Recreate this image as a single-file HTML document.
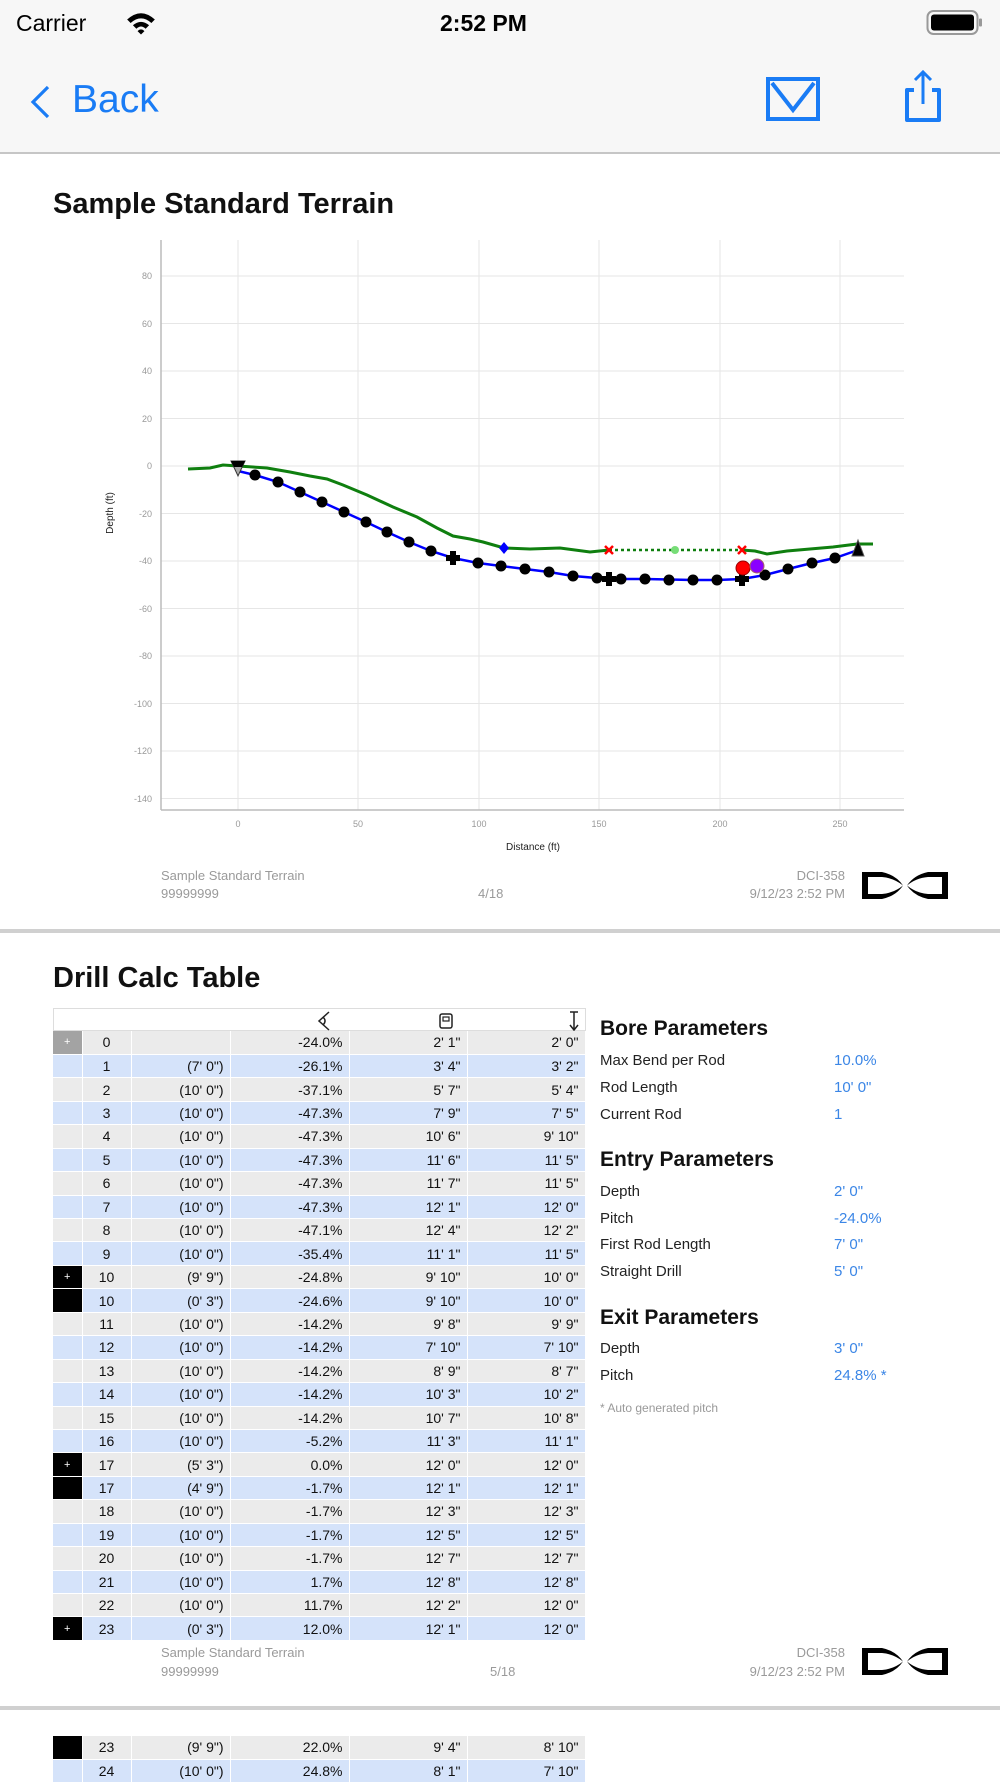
<!DOCTYPE html>
<html><head><meta charset="utf-8">
<style>
*{margin:0;padding:0;box-sizing:border-box}
body{width:1000px;height:1778px;overflow:hidden;background:#fff;font-family:"Liberation Sans",sans-serif;position:relative}
.a{position:absolute;white-space:nowrap}
.nav{position:absolute;left:0;top:0;width:1000px;height:154px;background:#f7f7f7;border-bottom:2px solid #c6c6c6}
.sep{position:absolute;left:0;width:1000px;height:4px;background:#d0d0d0}
.ft{color:#9a9a9a;font-size:13px}
table{position:absolute;left:53px;border-collapse:collapse;font-size:14px;color:#111}
td{height:23.44px;padding:0 6px 0 0;text-align:right;border-right:1px solid #fff;border-bottom:1px solid #fff}
tr.g td{background:#ebebeb}
tr.b td{background:#d5e3fa}
td.m{width:29px;padding:0;text-align:center;color:#fff;font-size:11px}
td.m.k{background:#000!important}
td.m.s{background:#a3a3a3!important}
td.n{width:49px;text-align:center;padding:0}
td.c2{width:99px}td.c3{width:119px}td.c4{width:118px}td.c5{width:118px}
.lbl{font-size:15px;color:#222}
.val{font-size:15px;color:#3b86e6}
.h2{font-size:21px;font-weight:bold;color:#111}
</style></head><body>
<div class="nav"></div>
<div class="a" style="left:16px;top:10px;font-size:23px;color:#000">Carrier</div>
<svg class="a" style="left:126px;top:10px" width="30" height="26" viewBox="0 0 26 22"><path d="M1,8 Q13,-3 25,8 L22,11 Q13,3 4,11Z M6,13 Q13,7 20,13 L17,16 Q13,12 9,16Z M10,18 Q13,15 16,18 L13,21Z" fill="#000"/></svg>
<div class="a" style="left:440px;top:10px;font-size:23px;font-weight:bold;color:#000">2:52 PM</div>
<svg class="a" style="left:926px;top:9px" width="58" height="28"><rect x="1.5" y="2" width="50" height="23" rx="6" fill="none" stroke="#999" stroke-width="2"/><rect x="5" y="5.5" width="43" height="16" rx="3" fill="#000"/><rect x="53" y="9.5" width="3" height="8" rx="1" fill="#999"/></svg>
<svg class="a" style="left:28px;top:84px" width="24" height="36"><path d="M20,3 L5,18 L20,33" fill="none" stroke="#1a7cf5" stroke-width="3.2"/></svg>
<div class="a" style="left:72px;top:78px;font-size:39px;color:#1a7cf5">Back</div>
<svg class="a" style="left:766px;top:77px" width="54" height="44"><rect x="2" y="2" width="50" height="40" fill="none" stroke="#1a7cf5" stroke-width="4"/><path d="M6,6 L27,33 L48,6" fill="none" stroke="#1a7cf5" stroke-width="4"/></svg>
<svg class="a" style="left:902px;top:68px" width="42" height="56"><path d="M12,22 L5,22 L5,52 L37,52 L37,22 L30,22" fill="none" stroke="#1a7cf5" stroke-width="4" stroke-linejoin="round"/><path d="M21,36 L21,4 M13,12 L21,4 L29,12" fill="none" stroke="#1a7cf5" stroke-width="3"/></svg>

<div class="a" style="left:53px;top:188px;font-size:29px;font-weight:bold;color:#111">Sample Standard Terrain</div>

<svg class="a" style="left:0;top:0" width="1000" height="940">
<g stroke="#e6e6e6" stroke-width="1">
<line x1="161" y1="276" x2="904" y2="276"/><line x1="161" y1="323.5" x2="904" y2="323.5"/><line x1="161" y1="371" x2="904" y2="371"/><line x1="161" y1="418.5" x2="904" y2="418.5"/><line x1="161" y1="466" x2="904" y2="466"/><line x1="161" y1="513.5" x2="904" y2="513.5"/><line x1="161" y1="561" x2="904" y2="561"/><line x1="161" y1="608.5" x2="904" y2="608.5"/><line x1="161" y1="656" x2="904" y2="656"/><line x1="161" y1="703.5" x2="904" y2="703.5"/><line x1="161" y1="751" x2="904" y2="751"/><line x1="161" y1="798.5" x2="904" y2="798.5"/>
<line x1="238" y1="240" x2="238" y2="810"/><line x1="358" y1="240" x2="358" y2="810"/><line x1="479" y1="240" x2="479" y2="810"/><line x1="599" y1="240" x2="599" y2="810"/><line x1="720" y1="240" x2="720" y2="810"/><line x1="840" y1="240" x2="840" y2="810"/>
</g>
<line x1="161" y1="240" x2="161" y2="810" stroke="#bbb" stroke-width="1.5"/>
<line x1="161" y1="810" x2="904" y2="810" stroke="#bbb" stroke-width="1.5"/>
<g font-size="9" fill="#999" text-anchor="end" font-family="Liberation Sans,sans-serif">
<text x="152" y="279">80</text><text x="152" y="327">60</text><text x="152" y="374">40</text><text x="152" y="422">20</text><text x="152" y="469">0</text><text x="152" y="517">-20</text><text x="152" y="564">-40</text><text x="152" y="612">-60</text><text x="152" y="659">-80</text><text x="152" y="707">-100</text><text x="152" y="754">-120</text><text x="152" y="802">-140</text>
</g>
<g font-size="9" fill="#999" text-anchor="middle" font-family="Liberation Sans,sans-serif">
<text x="238" y="827">0</text><text x="358" y="827">50</text><text x="479" y="827">100</text><text x="599" y="827">150</text><text x="720" y="827">200</text><text x="840" y="827">250</text>
</g>
<text x="533" y="850" font-size="10" fill="#222" text-anchor="middle" font-family="Liberation Sans,sans-serif">Distance (ft)</text>
<text transform="translate(113,513) rotate(-90)" font-size="10" fill="#222" text-anchor="middle" font-family="Liberation Sans,sans-serif">Depth (ft)</text>
<polyline fill="none" stroke="#0f7f0f" stroke-width="3" points="188,469 210,468 223,465 238,466 267,468 290,472 310,476 327,479 343,485 367,495 393,507 417,517 437,528 453,536 470,539 483,542 504,548 530,549 560,548 590,552 609,550"/>
<polyline fill="none" stroke="#0f7f0f" stroke-width="3" points="742,550 755,551 767,554 787,551 810,549 833,547 857,544 873,544"/>
<line x1="609" y1="550" x2="742" y2="550" stroke="#0f7f0f" stroke-width="2.5" stroke-dasharray="3,3"/>
<circle cx="675" cy="550" r="4" fill="#77dd77"/>
<polyline fill="none" stroke="#0000ff" stroke-width="2.5" points="238,471 255,475 278,482 300,492 322,502 344,512 366,522 387,532 409,542 431,551 453,558 478,563 501,566 525,569 549,572 573,576 597,578 609,579 645,579 693,580 717,580 742,579 765,575 788,569 812,563 835,558 858,550"/>
<g fill="#000">
<circle cx="255" cy="475" r="5.5"/><circle cx="278" cy="482" r="5.5"/><circle cx="300" cy="492" r="5.5"/><circle cx="322" cy="502" r="5.5"/><circle cx="344" cy="512" r="5.5"/><circle cx="366" cy="522" r="5.5"/><circle cx="387" cy="532" r="5.5"/><circle cx="409" cy="542" r="5.5"/><circle cx="431" cy="551" r="5.5"/><circle cx="478" cy="563" r="5.5"/><circle cx="501" cy="566" r="5.5"/><circle cx="525" cy="569" r="5.5"/><circle cx="549" cy="572" r="5.5"/><circle cx="573" cy="576" r="5.5"/><circle cx="597" cy="578" r="5.5"/><circle cx="621" cy="579" r="5.5"/><circle cx="645" cy="579" r="5.5"/><circle cx="669" cy="580" r="5.5"/><circle cx="693" cy="580" r="5.5"/><circle cx="717" cy="580" r="5.5"/><circle cx="765" cy="575" r="5.5"/><circle cx="788" cy="569" r="5.5"/><circle cx="812" cy="563" r="5.5"/><circle cx="835" cy="558" r="5.5"/>
<path d="M450,551h6v4h4v6h-4v4h-6v-4h-4v-6h4z"/>
<path d="M606,572h6v4h4v6h-4v4h-6v-4h-4v-6h4z"/>
<path d="M739,572h6v4h4v6h-4v4h-6v-4h-4v-6h4z"/>
</g>
<path d="M231,461 L245,461 L238,476 Z" fill="#aaa" stroke="#333" stroke-width="1"/>
<path d="M231,461 L245,461 L242,467 L234,467Z" fill="#000"/>
<path d="M852,556 L864,556 L858,540 Z" fill="#000" stroke="#555" stroke-width="1"/>
<path d="M504,542 L509,548 L504,554 L499,548Z" fill="#0000ff"/>
<g stroke="#ff0000" stroke-width="2.5"><path d="M605,546 l8,8 M613,546 l-8,8"/><path d="M738,546 l8,8 M746,546 l-8,8"/></g>
<circle cx="743" cy="568" r="7" fill="#ff0000" stroke="#900" stroke-width="1"/>
<circle cx="757" cy="566" r="7" fill="#8a00ff" stroke="#a66" stroke-width="1"/>
</svg>

<div class="a ft" style="left:161px;top:868px">Sample Standard Terrain</div>
<div class="a ft" style="left:161px;top:886px">99999999</div>
<div class="a ft" style="left:478px;top:886px">4/18</div>
<div class="a ft" style="right:155px;top:868px;text-align:right">DCI-358</div>
<div class="a ft" style="right:155px;top:886px;text-align:right">9/12/23 2:52 PM</div>
<svg class="a" style="left:862px;top:872px" width="86" height="27" viewBox="0 0 86 27"><g fill="#000"><rect x="0" y="0" width="6" height="27"/><rect x="80" y="0" width="6" height="27"/><path d="M6,0 L20,0 Q34,3 41,13.5 Q32,6 20,5 L6,5Z"/><path d="M6,27 L20,27 Q34,24 41,13.5 Q32,21 20,22 L6,22Z"/><path d="M80,0 L66,0 Q52,3 45,13.5 Q54,6 66,5 L80,5Z"/><path d="M80,27 L66,27 Q52,24 45,13.5 Q54,21 66,22 L80,22Z"/></g></svg>

<div class="sep" style="top:929px"></div>
<div class="a" style="left:53px;top:962px;font-size:29px;font-weight:bold;color:#111">Drill Calc Table</div>

<div class="a" style="left:53px;top:1008px;width:533px;height:24px;border:1px solid #ddd;border-bottom:2px solid #ddd"></div>
<svg class="a" style="left:315px;top:1010px" width="280" height="22"><path d="M14,2 L4,11 L14,20 M8,7 Q12,11 8,15" fill="none" stroke="#222" stroke-width="1.5"/><rect x="125" y="4" width="12" height="14" rx="2" fill="none" stroke="#222" stroke-width="1.5"/><rect x="128" y="7" width="6" height="4" fill="none" stroke="#222" stroke-width="1.2"/><path d="M255,2 h8 M259,2 v17 M255,15 l4,5 l4,-5" fill="none" stroke="#222" stroke-width="1.5"/></svg>

<table style="top:1031px">
<tr class="g"><td class="m s">+</td><td class="n">0</td><td class="c2"></td><td class="c3">-24.0%</td><td class="c4">2' 1"</td><td class="c5">2' 0"</td></tr>
<tr class="b"><td class="m"></td><td class="n">1</td><td class="c2">(7' 0")</td><td class="c3">-26.1%</td><td class="c4">3' 4"</td><td class="c5">3' 2"</td></tr>
<tr class="g"><td class="m"></td><td class="n">2</td><td class="c2">(10' 0")</td><td class="c3">-37.1%</td><td class="c4">5' 7"</td><td class="c5">5' 4"</td></tr>
<tr class="b"><td class="m"></td><td class="n">3</td><td class="c2">(10' 0")</td><td class="c3">-47.3%</td><td class="c4">7' 9"</td><td class="c5">7' 5"</td></tr>
<tr class="g"><td class="m"></td><td class="n">4</td><td class="c2">(10' 0")</td><td class="c3">-47.3%</td><td class="c4">10' 6"</td><td class="c5">9' 10"</td></tr>
<tr class="b"><td class="m"></td><td class="n">5</td><td class="c2">(10' 0")</td><td class="c3">-47.3%</td><td class="c4">11' 6"</td><td class="c5">11' 5"</td></tr>
<tr class="g"><td class="m"></td><td class="n">6</td><td class="c2">(10' 0")</td><td class="c3">-47.3%</td><td class="c4">11' 7"</td><td class="c5">11' 5"</td></tr>
<tr class="b"><td class="m"></td><td class="n">7</td><td class="c2">(10' 0")</td><td class="c3">-47.3%</td><td class="c4">12' 1"</td><td class="c5">12' 0"</td></tr>
<tr class="g"><td class="m"></td><td class="n">8</td><td class="c2">(10' 0")</td><td class="c3">-47.1%</td><td class="c4">12' 4"</td><td class="c5">12' 2"</td></tr>
<tr class="b"><td class="m"></td><td class="n">9</td><td class="c2">(10' 0")</td><td class="c3">-35.4%</td><td class="c4">11' 1"</td><td class="c5">11' 5"</td></tr>
<tr class="g"><td class="m k">+</td><td class="n">10</td><td class="c2">(9' 9")</td><td class="c3">-24.8%</td><td class="c4">9' 10"</td><td class="c5">10' 0"</td></tr>
<tr class="b"><td class="m k"></td><td class="n">10</td><td class="c2">(0' 3")</td><td class="c3">-24.6%</td><td class="c4">9' 10"</td><td class="c5">10' 0"</td></tr>
<tr class="g"><td class="m"></td><td class="n">11</td><td class="c2">(10' 0")</td><td class="c3">-14.2%</td><td class="c4">9' 8"</td><td class="c5">9' 9"</td></tr>
<tr class="b"><td class="m"></td><td class="n">12</td><td class="c2">(10' 0")</td><td class="c3">-14.2%</td><td class="c4">7' 10"</td><td class="c5">7' 10"</td></tr>
<tr class="g"><td class="m"></td><td class="n">13</td><td class="c2">(10' 0")</td><td class="c3">-14.2%</td><td class="c4">8' 9"</td><td class="c5">8' 7"</td></tr>
<tr class="b"><td class="m"></td><td class="n">14</td><td class="c2">(10' 0")</td><td class="c3">-14.2%</td><td class="c4">10' 3"</td><td class="c5">10' 2"</td></tr>
<tr class="g"><td class="m"></td><td class="n">15</td><td class="c2">(10' 0")</td><td class="c3">-14.2%</td><td class="c4">10' 7"</td><td class="c5">10' 8"</td></tr>
<tr class="b"><td class="m"></td><td class="n">16</td><td class="c2">(10' 0")</td><td class="c3">-5.2%</td><td class="c4">11' 3"</td><td class="c5">11' 1"</td></tr>
<tr class="g"><td class="m k">+</td><td class="n">17</td><td class="c2">(5' 3")</td><td class="c3">0.0%</td><td class="c4">12' 0"</td><td class="c5">12' 0"</td></tr>
<tr class="b"><td class="m k"></td><td class="n">17</td><td class="c2">(4' 9")</td><td class="c3">-1.7%</td><td class="c4">12' 1"</td><td class="c5">12' 1"</td></tr>
<tr class="g"><td class="m"></td><td class="n">18</td><td class="c2">(10' 0")</td><td class="c3">-1.7%</td><td class="c4">12' 3"</td><td class="c5">12' 3"</td></tr>
<tr class="b"><td class="m"></td><td class="n">19</td><td class="c2">(10' 0")</td><td class="c3">-1.7%</td><td class="c4">12' 5"</td><td class="c5">12' 5"</td></tr>
<tr class="g"><td class="m"></td><td class="n">20</td><td class="c2">(10' 0")</td><td class="c3">-1.7%</td><td class="c4">12' 7"</td><td class="c5">12' 7"</td></tr>
<tr class="b"><td class="m"></td><td class="n">21</td><td class="c2">(10' 0")</td><td class="c3">1.7%</td><td class="c4">12' 8"</td><td class="c5">12' 8"</td></tr>
<tr class="g"><td class="m"></td><td class="n">22</td><td class="c2">(10' 0")</td><td class="c3">11.7%</td><td class="c4">12' 2"</td><td class="c5">12' 0"</td></tr>
<tr class="b"><td class="m k">+</td><td class="n">23</td><td class="c2">(0' 3")</td><td class="c3">12.0%</td><td class="c4">12' 1"</td><td class="c5">12' 0"</td></tr>
</table>

<div class="a h2" style="left:600px;top:1017px">Bore Parameters</div>
<div class="a lbl" style="left:600px;top:1052px">Max Bend per Rod</div><div class="a val" style="left:834px;top:1052px">10.0%</div>
<div class="a lbl" style="left:600px;top:1079px">Rod Length</div><div class="a val" style="left:834px;top:1079px">10' 0"</div>
<div class="a lbl" style="left:600px;top:1106px">Current Rod</div><div class="a val" style="left:834px;top:1106px">1</div>
<div class="a h2" style="left:600px;top:1148px">Entry Parameters</div>
<div class="a lbl" style="left:600px;top:1183px">Depth</div><div class="a val" style="left:834px;top:1183px">2' 0"</div>
<div class="a lbl" style="left:600px;top:1210px">Pitch</div><div class="a val" style="left:834px;top:1210px">-24.0%</div>
<div class="a lbl" style="left:600px;top:1236px">First Rod Length</div><div class="a val" style="left:834px;top:1236px">7' 0"</div>
<div class="a lbl" style="left:600px;top:1263px">Straight Drill</div><div class="a val" style="left:834px;top:1263px">5' 0"</div>
<div class="a h2" style="left:600px;top:1306px">Exit Parameters</div>
<div class="a lbl" style="left:600px;top:1340px">Depth</div><div class="a val" style="left:834px;top:1340px">3' 0"</div>
<div class="a lbl" style="left:600px;top:1367px">Pitch</div><div class="a val" style="left:834px;top:1367px">24.8% *</div>
<div class="a" style="left:600px;top:1401px;font-size:12px;color:#999">* Auto generated pitch</div>

<div class="a ft" style="left:161px;top:1645px">Sample Standard Terrain</div>
<div class="a ft" style="left:161px;top:1664px">99999999</div>
<div class="a ft" style="left:490px;top:1664px">5/18</div>
<div class="a ft" style="right:155px;top:1645px;text-align:right">DCI-358</div>
<div class="a ft" style="right:155px;top:1664px;text-align:right">9/12/23 2:52 PM</div>
<svg class="a" style="left:862px;top:1648px" width="86" height="27" viewBox="0 0 86 27"><g fill="#000"><rect x="0" y="0" width="6" height="27"/><rect x="80" y="0" width="6" height="27"/><path d="M6,0 L20,0 Q34,3 41,13.5 Q32,6 20,5 L6,5Z"/><path d="M6,27 L20,27 Q34,24 41,13.5 Q32,21 20,22 L6,22Z"/><path d="M80,0 L66,0 Q52,3 45,13.5 Q54,6 66,5 L80,5Z"/><path d="M80,27 L66,27 Q52,24 45,13.5 Q54,21 66,22 L80,22Z"/></g></svg>

<div class="sep" style="top:1706px"></div>
<table style="top:1736px">
<tr class="g"><td class="m k"></td><td class="n">23</td><td class="c2">(9' 9")</td><td class="c3">22.0%</td><td class="c4">9' 4"</td><td class="c5">8' 10"</td></tr>
<tr class="b"><td class="m"></td><td class="n">24</td><td class="c2">(10' 0")</td><td class="c3">24.8%</td><td class="c4">8' 1"</td><td class="c5">7' 10"</td></tr>
</table>
</body></html>
